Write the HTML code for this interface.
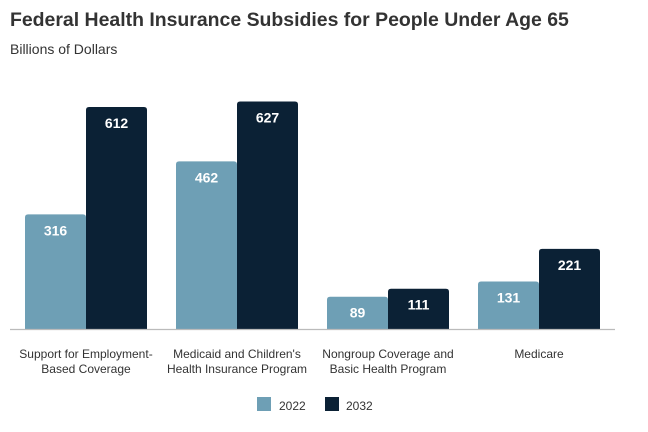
<!DOCTYPE html>
<html><head><meta charset="utf-8"><style>
body{margin:0;background:#fff;font-family:"Liberation Sans",sans-serif;}
#wrap{position:relative;width:648px;height:432px;overflow:hidden;}
</style></head><body>
<div id="wrap">
<svg id="chart" width="648" height="432" font-family="Liberation Sans, sans-serif">
<text x="10" y="26" font-size="19.45" font-weight="bold" fill="#333">Federal Health Insurance Subsidies for People Under Age 65</text>
<text x="10" y="54" font-size="14" fill="#333">Billions of Dollars</text>
<g id="bars"></g>
<line x1="10" x2="615" y1="329.5" y2="329.5" stroke="#bbb" stroke-width="1.2"/>
<g id="labels"></g>
<g>
<rect x="257" y="397" width="14" height="14" fill="#6e9fb5"/>
<text x="279" y="410" font-size="12" fill="#333">2022</text>
<rect x="325" y="397" width="14" height="14" fill="#0b2135"/>
<text x="346" y="410" font-size="12" fill="#333">2032</text>
</g>
</svg>
</div>
<script>
const categories=[["Support for Employment-","Based Coverage"],["Medicaid and Children's","Health Insurance Program"],["Nongroup Coverage and","Basic Health Program"],["Medicare"]];
const values2022=[316,462,89,131];
const values2032=[612,627,111,221];
const seriesNames=["2022","2032"];
const colors=["#6e9fb5","#0b2135"];
const NS="http://www.w3.org/2000/svg";
const baseY=329, scale=222/612, x0=25, groupStep=151, barW=61;
function yPos(v){return baseY-v*scale;}
function xPos(i,s){return x0+i*groupStep+s*barW;}
const gb=document.getElementById('bars'), gl=document.getElementById('labels');
[values2022,values2032].forEach((vals,s)=>{
 vals.forEach((v,i)=>{
  const x=xPos(i,s), y=yPos(v), r=3;
  const p=document.createElementNS(NS,'path');
  p.setAttribute('d',`M${x},${baseY} V${y+r} Q${x},${y} ${x+r},${y} H${x+barW-r} Q${x+barW},${y} ${x+barW},${y+r} V${baseY} Z`);
  p.setAttribute('fill',colors[s]);
  
  
  gb.appendChild(p);
  const t=document.createElementNS(NS,'text');
  t.setAttribute('x',x+barW/2);t.setAttribute('y',y+21);
  t.setAttribute('text-anchor','middle');t.setAttribute('font-size','14');
  t.setAttribute('font-weight','bold');t.setAttribute('fill','#fff');
  t.textContent=v;
  
  
  gb.appendChild(t);
 });
});
categories.forEach((lines,i)=>{
 const cx=x0+i*groupStep+barW;
 lines.forEach((ln,j)=>{
  const t=document.createElementNS(NS,'text');
  t.setAttribute('x',cx);t.setAttribute('y',358+j*15);
  t.setAttribute('text-anchor','middle');t.setAttribute('font-size','12');t.setAttribute('fill','#333');
  t.textContent=ln;
  
  
  gl.appendChild(t);
 });
});
</script>
</body></html>
